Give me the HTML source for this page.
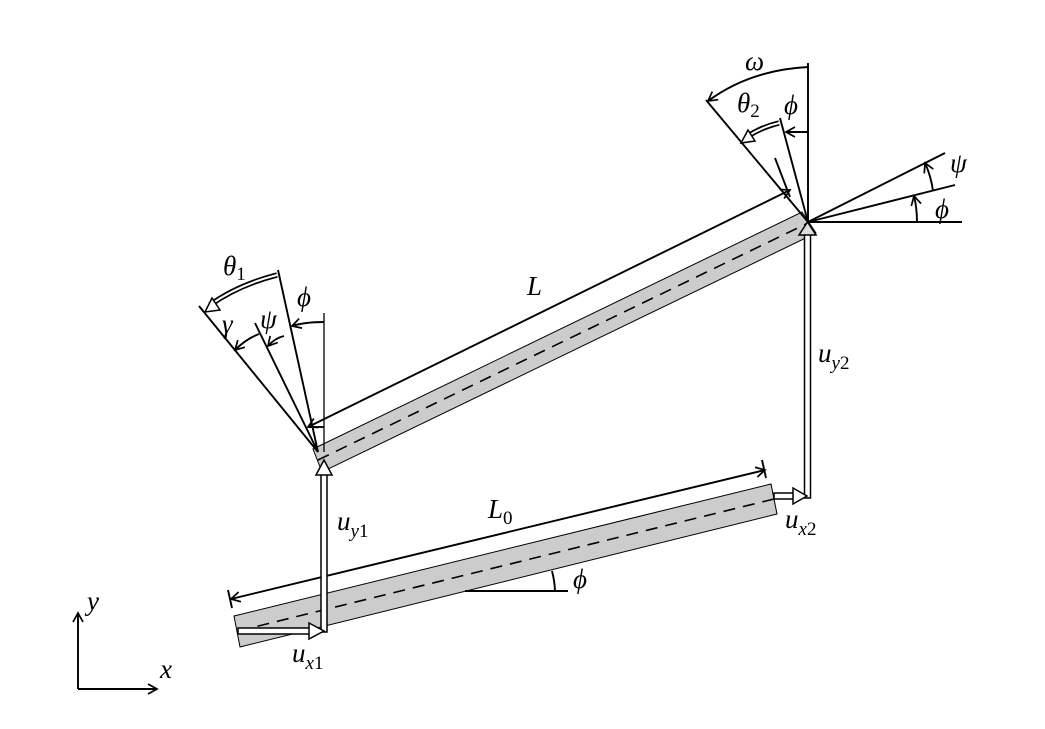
<!DOCTYPE html>
<html><head><meta charset="utf-8"><style>
html,body{margin:0;padding:0;background:#fff}
svg{display:block}
text{font-family:"Liberation Serif",serif;font-style:italic;fill:#000}
</style></head><body>
<svg width="1045" height="729" viewBox="0 0 1045 729" xmlns="http://www.w3.org/2000/svg">
<defs>
<marker id="a" markerWidth="12" markerHeight="12" refX="10" refY="6" orient="auto" markerUnits="userSpaceOnUse">
<path d="M1,1 L10,6 L1,11" fill="none" stroke="#000" stroke-width="1.7"/></marker>
<marker id="as" markerWidth="12" markerHeight="12" refX="2" refY="6" orient="auto" markerUnits="userSpaceOnUse">
<path d="M11,1 L2,6 L11,11" fill="none" stroke="#000" stroke-width="1.7"/></marker>
</defs>
<g stroke="#000" stroke-width="1.9" fill="none">
<polygon points="234,616 771,484 777,514 240,647" fill="#cccccc" stroke-width="1"/>
<line x1="238" y1="631" x2="774" y2="499" stroke-dasharray="12,8" stroke-width="1.6"/>
<polygon points="313,449 802,212 816,233 322,472" fill="#cccccc" stroke-width="1"/>
<line x1="318" y1="460" x2="808" y2="223" stroke-dasharray="12,8" stroke-width="1.6"/>
<line x1="78" y1="689" x2="78" y2="613" marker-end="url(#a)"/>
<line x1="78" y1="689" x2="157" y2="689" marker-end="url(#a)"/>
<line x1="231" y1="599" x2="765" y2="470" marker-start="url(#as)" marker-end="url(#a)"/>
<line x1="228" y1="590" x2="232" y2="608"/>
<line x1="762" y1="460" x2="766" y2="478"/>
<line x1="465" y1="591" x2="568" y2="591"/>
<path d="M555,591 A90,90 0 0 0 552,571"/>
<line x1="308" y1="427" x2="790" y2="190" marker-start="url(#as)" marker-end="url(#a)"/>
<line x1="308" y1="427" x2="324" y2="427"/>
<line x1="318" y1="452" x2="199" y2="306"/>
<line x1="318" y1="452" x2="278" y2="270"/>
<line x1="318" y1="452" x2="255" y2="323"/>
<line x1="324" y1="452" x2="324" y2="313" stroke-width="1.3"/>
<path d="M324,322 Q305,322 292,326" marker-end="url(#a)"/>
<path d="M284,336 Q275,338 268,346" marker-end="url(#a)"/>
<path d="M259,334 Q246,339 235,350" marker-end="url(#a)"/>
<path d="M277,275 Q238,285 210,305" stroke-width="5.5"/>
<path d="M277,275 Q238,285 210,305" stroke="#fff" stroke-width="2"/>
<path d="M212,298 L205,312 L220,310 Z" fill="#fff" stroke-width="1.5"/>
<line x1="808" y1="222" x2="808" y2="63"/>
<line x1="808" y1="222" x2="706" y2="100"/>
<line x1="808" y1="222" x2="780" y2="118"/>
<line x1="790" y1="197" x2="775" y2="158"/>
<line x1="808" y1="222" x2="962" y2="222"/>
<line x1="808" y1="222" x2="955" y2="185"/>
<line x1="808" y1="222" x2="945" y2="153"/>
<path d="M808,67 Q750,70 708,101" marker-end="url(#a)"/>
<path d="M808,132 L786,132" marker-end="url(#a)"/>
<path d="M917,222 Q917,208 914,196" marker-end="url(#a)"/>
<path d="M933,191 Q931,176 925,163" marker-end="url(#a)"/>
<path d="M779,123 Q762,127 748,136" stroke-width="5.5"/>
<path d="M779,123 Q762,127 748,136" stroke="#fff" stroke-width="2"/>
<path d="M748,130 L741,143 L755,141 Z" fill="#fff" stroke-width="1.5"/>
<rect x="804.5" y="234" width="6" height="264" fill="#fff" stroke-width="1.5"/>
<path d="M799,235 L807.5,222 L816,235 Z" fill="#ddd" stroke-width="1.5"/>
<rect x="774" y="493" width="20" height="6" fill="#fff" stroke-width="1.5"/>
<path d="M793,488 L807,496 L793,504 Z" fill="#fff" stroke-width="1.5"/>
<rect x="321" y="474" width="6" height="158" fill="#fff" stroke-width="1.5"/>
<path d="M316,475 L324,460 L332,475 Z" fill="#fff" stroke-width="1.5"/>
<rect x="238" y="628" width="72" height="6" fill="#fff" stroke-width="1.5"/>
<path d="M309,623 L324,631 L309,639 Z" fill="#fff" stroke-width="1.5"/>
</g>
<g font-size="27">
<text x="87" y="610">y</text>
<text x="160" y="678">x</text>
<text x="527" y="295">L</text>
<text x="488" y="518">L<tspan font-size="19" font-style="normal" dy="6">0</tspan></text>
<text x="573" y="588">ϕ</text>
<text x="337" y="530">u<tspan font-size="19" dy="7">y</tspan><tspan font-size="19" font-style="normal">1</tspan></text>
<text x="292" y="662">u<tspan font-size="19" dy="7">x</tspan><tspan font-size="19" font-style="normal">1</tspan></text>
<text x="818" y="362">u<tspan font-size="19" dy="7">y</tspan><tspan font-size="19" font-style="normal">2</tspan></text>
<text x="785" y="528">u<tspan font-size="19" dy="7">x</tspan><tspan font-size="19" font-style="normal">2</tspan></text>
<text x="223" y="275">θ<tspan font-size="19" font-style="normal" dy="5">1</tspan></text>
<text x="222" y="333">γ</text>
<text x="260" y="328">ψ</text>
<text x="297" y="306">ϕ</text>
<text x="745" y="70">ω</text>
<text x="737" y="112">θ<tspan font-size="19" font-style="normal" dy="5">2</tspan></text>
<text x="784" y="114">ϕ</text>
<text x="950" y="172">ψ</text>
<text x="935" y="218">ϕ</text>
</g>
</svg>
</body></html>
